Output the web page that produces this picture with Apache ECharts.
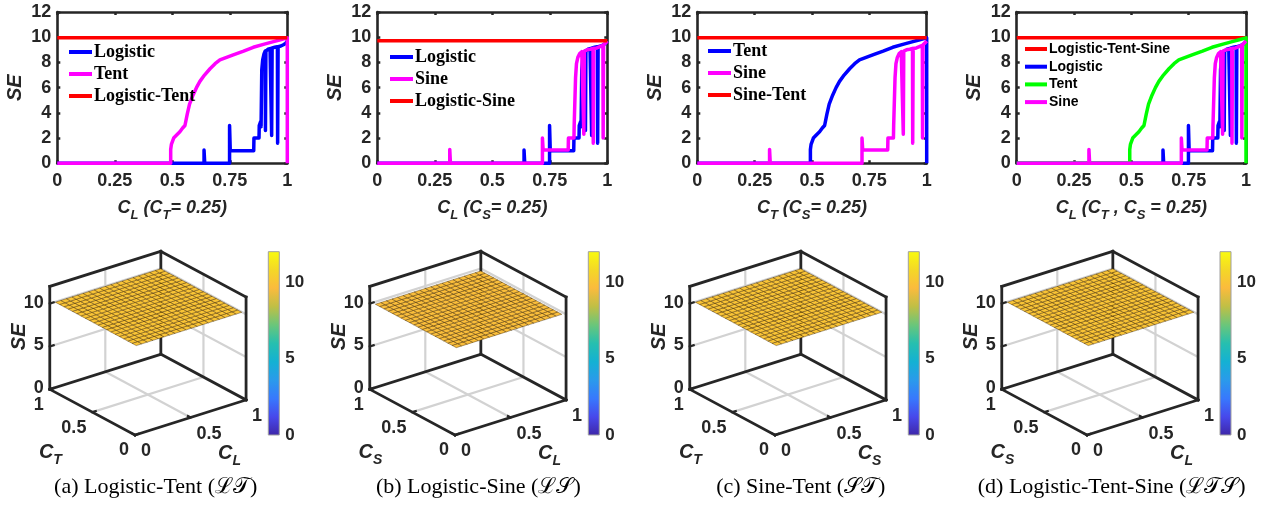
<!DOCTYPE html>
<html>
<head>
<meta charset="utf-8">
<script src="https://cdn.jsdelivr.net/npm/echarts@6/dist/echarts.min.js"></script>
<style>
  html, body { margin: 0; padding: 0; background: #fff; }
  #chart { width: 1265px; height: 514px; }
</style>
</head>
<body>
<div id="chart"></div>
<script>
// ---------------- data: SE versus control parameter (top row) ----------------
const cAxisTicks = [0, 0.25, 0.5, 0.75, 1];
const seAxisTicks = [0, 2, 4, 6, 8, 10, 12];

const logisticSE = [
  [0, 0], [0.638, 0], [0.638, 1.05], [0.641, 0], [0.749, 0], [0.749, 3.0], [0.752, 1.0],
  [0.854, 1.0], [0.855, 2.0], [0.877, 2.0], [0.878, 3.0], [0.884, 3.3], [0.886, 2.9], [0.889, 7.4],
  [0.893, 8.2], [0.899, 8.7], [0.904, 8.9], [0.905, 2.6], [0.907, 8.9], [0.916, 9.05],
  [0.925, 9.1], [0.931, 9.15], [0.932, 2.2], [0.934, 9.15], [0.945, 9.2], [0.957, 9.25],
  [0.958, 1.6], [0.960, 9.25], [0.972, 9.3], [0.983, 9.4], [0.992, 9.5], [1.0, 9.7]
];
const tentSE = [
  [0, 0], [0.493, 0], [0.493, 1.1], [0.496, 1.5], [0.502, 1.6], [0.506, 2.0], [0.514, 2.1],
  [0.522, 2.3], [0.533, 2.5], [0.545, 2.8], [0.555, 3.0], [0.565, 3.9], [0.575, 4.7],
  [0.590, 5.4], [0.605, 6.0], [0.620, 6.5], [0.640, 7.0], [0.664, 7.5], [0.686, 7.9],
  [0.707, 8.2], [0.765, 8.6], [0.810, 8.9], [0.852, 9.2], [0.900, 9.45], [0.940, 9.65],
  [0.970, 9.8], [1.0, 9.95], [1.0, 0]
];
const sineSE = [
  [0, 0], [0.315, 0], [0.315, 1.1], [0.318, 0], [0.718, 0], [0.718, 2.0], [0.721, 1.05],
  [0.830, 1.05], [0.831, 2.0], [0.855, 2.0], [0.856, 3.0], [0.859, 3.1], [0.862, 6.8],
  [0.866, 7.9], [0.872, 8.4], [0.880, 8.7], [0.889, 8.85], [0.897, 8.9], [0.898, 2.3],
  [0.900, 8.9], [0.912, 9.0], [0.926, 9.05], [0.938, 9.1], [0.939, 1.6], [0.941, 9.1],
  [0.955, 9.15], [0.968, 9.25], [0.981, 9.35], [0.982, 2.0], [0.984, 9.4], [0.993, 9.55], [1.0, 9.7]
];
const logisticTentSE = [[0, 9.96], [1, 9.96]];
const logisticSineSE = [[0, 9.72], [1, 9.72]];
const sineTentSE = [[0, 9.96], [1, 9.96]];
const logisticTentSineSE = [[0, 9.96], [1, 9.96]];

// ---------------- data: SE surfaces over the two control parameters (bottom row) ----------------
const surfaceGrid = [0.05, 0.10, 0.15, 0.20, 0.25, 0.30, 0.35, 0.40, 0.45, 0.50,
                     0.55, 0.60, 0.65, 0.70, 0.75, 0.80, 0.85, 0.90, 0.95, 1.00];
const surfLT = [
  [9.96,9.96,9.96,9.96,9.96,9.96,9.96,9.96,9.96,9.96,9.96,9.96,9.96,9.96,9.96,9.96,9.96,9.96,9.96,9.96],
  [9.96,9.96,9.96,9.96,9.96,9.96,9.96,9.96,9.96,9.96,9.96,9.96,9.96,9.96,9.96,9.96,9.96,9.96,9.96,9.96],
  [9.96,9.96,9.96,9.96,9.96,9.96,9.96,9.96,9.96,9.96,9.96,9.96,9.96,9.96,9.96,9.96,9.96,9.96,9.96,9.96],
  [9.96,9.96,9.96,9.96,9.96,9.96,9.96,9.96,9.96,9.96,9.96,9.96,9.96,9.96,9.96,9.96,9.96,9.96,9.96,9.96],
  [9.96,9.96,9.96,9.96,9.96,9.96,9.96,9.96,9.96,9.96,9.96,9.96,9.96,9.96,9.96,9.96,9.96,9.96,9.96,9.96],
  [9.96,9.96,9.96,9.96,9.96,9.96,9.96,9.96,9.96,9.96,9.96,9.96,9.96,9.96,9.96,9.96,9.96,9.96,9.96,9.96],
  [9.96,9.96,9.96,9.96,9.96,9.96,9.96,9.96,9.96,9.96,9.96,9.96,9.96,9.96,9.96,9.96,9.96,9.96,9.96,9.96],
  [9.96,9.96,9.96,9.96,9.96,9.96,9.96,9.96,9.96,9.96,9.96,9.96,9.96,9.96,9.96,9.96,9.96,9.96,9.96,9.96],
  [9.96,9.96,9.96,9.96,9.96,9.96,9.96,9.96,9.96,9.96,9.96,9.96,9.96,9.96,9.96,9.96,9.96,9.96,9.96,9.96],
  [9.96,9.96,9.96,9.96,9.96,9.96,9.96,9.96,9.96,9.96,9.96,9.96,9.96,9.96,9.96,9.96,9.96,9.96,9.96,9.96],
  [9.96,9.96,9.96,9.96,9.96,9.96,9.96,9.96,9.96,9.96,9.96,9.96,9.96,9.96,9.96,9.96,9.96,9.96,9.96,9.96],
  [9.96,9.96,9.96,9.96,9.96,9.96,9.96,9.96,9.96,9.96,9.96,9.96,9.96,9.96,9.96,9.96,9.96,9.96,9.96,9.96],
  [9.96,9.96,9.96,9.96,9.96,9.96,9.96,9.96,9.96,9.96,9.96,9.96,9.96,9.96,9.96,9.96,9.96,9.96,9.96,9.96],
  [9.96,9.96,9.96,9.96,9.96,9.96,9.96,9.96,9.96,9.96,9.96,9.96,9.96,9.96,9.96,9.96,9.96,9.96,9.96,9.96],
  [9.96,9.96,9.96,9.96,9.96,9.96,9.96,9.96,9.96,9.96,9.96,9.96,9.96,9.96,9.96,9.96,9.96,9.96,9.96,9.96],
  [9.96,9.96,9.96,9.96,9.96,9.96,9.96,9.96,9.96,9.96,9.96,9.96,9.96,9.96,9.96,9.96,9.96,9.96,9.96,9.96],
  [9.96,9.96,9.96,9.96,9.96,9.96,9.96,9.96,9.96,9.96,9.96,9.96,9.96,9.96,9.96,9.96,9.96,9.96,9.96,9.96],
  [9.96,9.96,9.96,9.96,9.96,9.96,9.96,9.96,9.96,9.96,9.96,9.96,9.96,9.96,9.96,9.96,9.96,9.96,9.96,9.96],
  [9.96,9.96,9.96,9.96,9.96,9.96,9.96,9.96,9.96,9.96,9.96,9.96,9.96,9.96,9.96,9.96,9.96,9.96,9.96,9.96],
  [9.96,9.96,9.96,9.96,9.96,9.96,9.96,9.96,9.96,9.96,9.96,9.96,9.96,9.96,9.96,9.96,9.96,9.96,9.96,9.96]
];
const surfLS = [
  [9.72,9.72,9.72,9.72,9.72,9.72,9.72,9.72,9.72,9.72,9.72,9.72,9.72,9.72,9.72,9.72,9.72,9.72,9.72,9.72],
  [9.72,9.72,9.72,9.72,9.72,9.72,9.72,9.72,9.72,9.72,9.72,9.72,9.72,9.72,9.72,9.72,9.72,9.72,9.72,9.72],
  [9.72,9.72,9.72,9.72,9.72,9.72,9.72,9.72,9.72,9.72,9.72,9.72,9.72,9.72,9.72,9.72,9.72,9.72,9.72,9.72],
  [9.72,9.72,9.72,9.72,9.72,9.72,9.72,9.72,9.72,9.72,9.72,9.72,9.72,9.72,9.72,9.72,9.72,9.72,9.72,9.72],
  [9.72,9.72,9.72,9.72,9.72,9.72,9.72,9.72,9.72,9.72,9.72,9.72,9.72,9.72,9.72,9.72,9.72,9.72,9.72,9.72],
  [9.72,9.72,9.72,9.72,9.72,9.72,9.72,9.72,9.72,9.72,9.72,9.72,9.72,9.72,9.72,9.72,9.72,9.72,9.72,9.72],
  [9.72,9.72,9.72,9.72,9.72,9.72,9.72,9.72,9.72,9.72,9.72,9.72,9.72,9.72,9.72,9.72,9.72,9.72,9.72,9.72],
  [9.72,9.72,9.72,9.72,9.72,9.72,9.72,9.72,9.72,9.72,9.72,9.72,9.72,9.72,9.72,9.72,9.72,9.72,9.72,9.72],
  [9.72,9.72,9.72,9.72,9.72,9.72,9.72,9.72,9.72,9.72,9.72,9.72,9.72,9.72,9.72,9.72,9.72,9.72,9.72,9.72],
  [9.72,9.72,9.72,9.72,9.72,9.72,9.72,9.72,9.72,9.72,9.72,9.72,9.72,9.72,9.72,9.72,9.72,9.72,9.72,9.72],
  [9.72,9.72,9.72,9.72,9.72,9.72,9.72,9.72,9.72,9.72,9.72,9.72,9.72,9.72,9.72,9.72,9.72,9.72,9.72,9.72],
  [9.72,9.72,9.72,9.72,9.72,9.72,9.72,9.72,9.72,9.72,9.72,9.72,9.72,9.72,9.72,9.72,9.72,9.72,9.72,9.72],
  [9.72,9.72,9.72,9.72,9.72,9.72,9.72,9.72,9.72,9.72,9.72,9.72,9.72,9.72,9.72,9.72,9.72,9.72,9.72,9.72],
  [9.72,9.72,9.72,9.72,9.72,9.72,9.72,9.72,9.72,9.72,9.72,9.72,9.72,9.72,9.72,9.72,9.72,9.72,9.72,9.72],
  [9.72,9.72,9.72,9.72,9.72,9.72,9.72,9.72,9.72,9.72,9.72,9.72,9.72,9.72,9.72,9.72,9.72,9.72,9.72,9.72],
  [9.72,9.72,9.72,9.72,9.72,9.72,9.72,9.72,9.72,9.72,9.72,9.72,9.72,9.72,9.72,9.72,9.72,9.72,9.72,9.72],
  [9.72,9.72,9.72,9.72,9.72,9.72,9.72,9.72,9.72,9.72,9.72,9.72,9.72,9.72,9.72,9.72,9.72,9.72,9.72,9.72],
  [9.72,9.72,9.72,9.72,9.72,9.72,9.72,9.72,9.72,9.72,9.72,9.72,9.72,9.72,9.72,9.72,9.72,9.72,9.72,9.72],
  [9.72,9.72,9.72,9.72,9.72,9.72,9.72,9.72,9.72,9.72,9.72,9.72,9.72,9.72,9.72,9.72,9.72,9.72,9.72,9.72],
  [9.72,9.72,9.72,9.72,9.72,9.72,9.72,9.72,9.72,9.72,9.72,9.72,9.72,9.72,9.72,9.72,9.72,9.72,9.72,9.72]
];
const surfST = [
  [9.96,9.96,9.96,9.96,9.96,9.96,9.96,9.96,9.96,9.96,9.96,9.96,9.96,9.96,9.96,9.96,9.96,9.96,9.96,9.96],
  [9.96,9.96,9.96,9.96,9.96,9.96,9.96,9.96,9.96,9.96,9.96,9.96,9.96,9.96,9.96,9.96,9.96,9.96,9.96,9.96],
  [9.96,9.96,9.96,9.96,9.96,9.96,9.96,9.96,9.96,9.96,9.96,9.96,9.96,9.96,9.96,9.96,9.96,9.96,9.96,9.96],
  [9.96,9.96,9.96,9.96,9.96,9.96,9.96,9.96,9.96,9.96,9.96,9.96,9.96,9.96,9.96,9.96,9.96,9.96,9.96,9.96],
  [9.96,9.96,9.96,9.96,9.96,9.96,9.96,9.96,9.96,9.96,9.96,9.96,9.96,9.96,9.96,9.96,9.96,9.96,9.96,9.96],
  [9.96,9.96,9.96,9.96,9.96,9.96,9.96,9.96,9.96,9.96,9.96,9.96,9.96,9.96,9.96,9.96,9.96,9.96,9.96,9.96],
  [9.96,9.96,9.96,9.96,9.96,9.96,9.96,9.96,9.96,9.96,9.96,9.96,9.96,9.96,9.96,9.96,9.96,9.96,9.96,9.96],
  [9.96,9.96,9.96,9.96,9.96,9.96,9.96,9.96,9.96,9.96,9.96,9.96,9.96,9.96,9.96,9.96,9.96,9.96,9.96,9.96],
  [9.96,9.96,9.96,9.96,9.96,9.96,9.96,9.96,9.96,9.96,9.96,9.96,9.96,9.96,9.96,9.96,9.96,9.96,9.96,9.96],
  [9.96,9.96,9.96,9.96,9.96,9.96,9.96,9.96,9.96,9.96,9.96,9.96,9.96,9.96,9.96,9.96,9.96,9.96,9.96,9.96],
  [9.96,9.96,9.96,9.96,9.96,9.96,9.96,9.96,9.96,9.96,9.96,9.96,9.96,9.96,9.96,9.96,9.96,9.96,9.96,9.96],
  [9.96,9.96,9.96,9.96,9.96,9.96,9.96,9.96,9.96,9.96,9.96,9.96,9.96,9.96,9.96,9.96,9.96,9.96,9.96,9.96],
  [9.96,9.96,9.96,9.96,9.96,9.96,9.96,9.96,9.96,9.96,9.96,9.96,9.96,9.96,9.96,9.96,9.96,9.96,9.96,9.96],
  [9.96,9.96,9.96,9.96,9.96,9.96,9.96,9.96,9.96,9.96,9.96,9.96,9.96,9.96,9.96,9.96,9.96,9.96,9.96,9.96],
  [9.96,9.96,9.96,9.96,9.96,9.96,9.96,9.96,9.96,9.96,9.96,9.96,9.96,9.96,9.96,9.96,9.96,9.96,9.96,9.96],
  [9.96,9.96,9.96,9.96,9.96,9.96,9.96,9.96,9.96,9.96,9.96,9.96,9.96,9.96,9.96,9.96,9.96,9.96,9.96,9.96],
  [9.96,9.96,9.96,9.96,9.96,9.96,9.96,9.96,9.96,9.96,9.96,9.96,9.96,9.96,9.96,9.96,9.96,9.96,9.96,9.96],
  [9.96,9.96,9.96,9.96,9.96,9.96,9.96,9.96,9.96,9.96,9.96,9.96,9.96,9.96,9.96,9.96,9.96,9.96,9.96,9.96],
  [9.96,9.96,9.96,9.96,9.96,9.96,9.96,9.96,9.96,9.96,9.96,9.96,9.96,9.96,9.96,9.96,9.96,9.96,9.96,9.96],
  [9.96,9.96,9.96,9.96,9.96,9.96,9.96,9.96,9.96,9.96,9.96,9.96,9.96,9.96,9.96,9.96,9.96,9.96,9.96,9.96]
];
const surfLTS = [
  [9.96,9.96,9.96,9.96,9.96,9.96,9.96,9.96,9.96,9.96,9.96,9.96,9.96,9.96,9.96,9.96,9.96,9.96,9.96,9.96],
  [9.96,9.96,9.96,9.96,9.96,9.96,9.96,9.96,9.96,9.96,9.96,9.96,9.96,9.96,9.96,9.96,9.96,9.96,9.96,9.96],
  [9.96,9.96,9.96,9.96,9.96,9.96,9.96,9.96,9.96,9.96,9.96,9.96,9.96,9.96,9.96,9.96,9.96,9.96,9.96,9.96],
  [9.96,9.96,9.96,9.96,9.96,9.96,9.96,9.96,9.96,9.96,9.96,9.96,9.96,9.96,9.96,9.96,9.96,9.96,9.96,9.96],
  [9.96,9.96,9.96,9.96,9.96,9.96,9.96,9.96,9.96,9.96,9.96,9.96,9.96,9.96,9.96,9.96,9.96,9.96,9.96,9.96],
  [9.96,9.96,9.96,9.96,9.96,9.96,9.96,9.96,9.96,9.96,9.96,9.96,9.96,9.96,9.96,9.96,9.96,9.96,9.96,9.96],
  [9.96,9.96,9.96,9.96,9.96,9.96,9.96,9.96,9.96,9.96,9.96,9.96,9.96,9.96,9.96,9.96,9.96,9.96,9.96,9.96],
  [9.96,9.96,9.96,9.96,9.96,9.96,9.96,9.96,9.96,9.96,9.96,9.96,9.96,9.96,9.96,9.96,9.96,9.96,9.96,9.96],
  [9.96,9.96,9.96,9.96,9.96,9.96,9.96,9.96,9.96,9.96,9.96,9.96,9.96,9.96,9.96,9.96,9.96,9.96,9.96,9.96],
  [9.96,9.96,9.96,9.96,9.96,9.96,9.96,9.96,9.96,9.96,9.96,9.96,9.96,9.96,9.96,9.96,9.96,9.96,9.96,9.96],
  [9.96,9.96,9.96,9.96,9.96,9.96,9.96,9.96,9.96,9.96,9.96,9.96,9.96,9.96,9.96,9.96,9.96,9.96,9.96,9.96],
  [9.96,9.96,9.96,9.96,9.96,9.96,9.96,9.96,9.96,9.96,9.96,9.96,9.96,9.96,9.96,9.96,9.96,9.96,9.96,9.96],
  [9.96,9.96,9.96,9.96,9.96,9.96,9.96,9.96,9.96,9.96,9.96,9.96,9.96,9.96,9.96,9.96,9.96,9.96,9.96,9.96],
  [9.96,9.96,9.96,9.96,9.96,9.96,9.96,9.96,9.96,9.96,9.96,9.96,9.96,9.96,9.96,9.96,9.96,9.96,9.96,9.96],
  [9.96,9.96,9.96,9.96,9.96,9.96,9.96,9.96,9.96,9.96,9.96,9.96,9.96,9.96,9.96,9.96,9.96,9.96,9.96,9.96],
  [9.96,9.96,9.96,9.96,9.96,9.96,9.96,9.96,9.96,9.96,9.96,9.96,9.96,9.96,9.96,9.96,9.96,9.96,9.96,9.96],
  [9.96,9.96,9.96,9.96,9.96,9.96,9.96,9.96,9.96,9.96,9.96,9.96,9.96,9.96,9.96,9.96,9.96,9.96,9.96,9.96],
  [9.96,9.96,9.96,9.96,9.96,9.96,9.96,9.96,9.96,9.96,9.96,9.96,9.96,9.96,9.96,9.96,9.96,9.96,9.96,9.96],
  [9.96,9.96,9.96,9.96,9.96,9.96,9.96,9.96,9.96,9.96,9.96,9.96,9.96,9.96,9.96,9.96,9.96,9.96,9.96,9.96],
  [9.96,9.96,9.96,9.96,9.96,9.96,9.96,9.96,9.96,9.96,9.96,9.96,9.96,9.96,9.96,9.96,9.96,9.96,9.96,9.96]
];
const cTicks3D = [0, 0.5, 1];
const seTicks3D = [0, 5, 10];
const seRange3D = [0, 12];
const colorbarRange = [0, 12];
const colorbarTicks = [0, 5, 10];

// ---------------- styling ----------------
const SANS = "'Liberation Sans', Arial, Helvetica, sans-serif";
const SERIF = "'Liberation Serif', 'Times New Roman', serif";
const AX = '#262626';
const BLUE = '#0000ff', MAGENTA = '#ff00ff', RED = '#ff0000', GREEN = '#00ff00';
// parula colour map, sampled at 11 evenly spaced points
const PARULA = ['#3e26a8', '#4748eb', '#3878fd', '#2a9aeb', '#14b1d3', '#26bfaf',
                '#6bc67a', '#c0bf45', '#fbbb3d', '#f4d826', '#f9fb0e'];

function hexToRgb(h) { return [1, 3, 5].map(i => parseInt(h.slice(i, i + 2), 16)); }
function parula(t) {
  t = Math.max(0, Math.min(1, t));
  const f = t * (PARULA.length - 1), i = Math.min(PARULA.length - 2, Math.floor(f)), r = f - i;
  const a = hexToRgb(PARULA[i]), b = hexToRgb(PARULA[i + 1]);
  const c = a.map((v, k) => Math.round(v + (b[k] - v) * r));
  return 'rgb(' + c.join(',') + ')';
}

const richAxisTitle = (size, sub) => ({
  i: { fontFamily: SANS, fontWeight: 'bold', fontStyle: 'italic', fontSize: size, lineHeight: size + 10, color: AX },
  s: { fontFamily: SANS, fontWeight: 'bold', fontStyle: 'italic', fontSize: sub, lineHeight: sub, color: AX, verticalAlign: 'bottom' }
});

// ---------------- top row: SE curves ----------------
const topPanels = [
  { key: 'a', left: 57.3, width: 230,
    series: [['Logistic', logisticSE, BLUE], ['Tent', tentSE, MAGENTA], ['Logistic-Tent', logisticTentSE, RED]],
    legend: ['Logistic', 'Tent', 'Logistic-Tent'], legendPos: [69, 43], legendFont: 'serif',
    xTitle: '{i|C}{s|L}{i| (C}{s|T}{i|= 0.25)}' },
  { key: 'b', left: 377.3, width: 230,
    series: [['Logistic', logisticSE, BLUE], ['Sine', sineSE, MAGENTA], ['Logistic-Sine', logisticSineSE, RED]],
    legend: ['Logistic', 'Sine', 'Logistic-Sine'], legendPos: [390, 48], legendFont: 'serif',
    xTitle: '{i|C}{s|L}{i| (C}{s|S}{i|= 0.25)}' },
  { key: 'c', left: 697.3, width: 229.4,
    series: [['Tent', tentSE, BLUE], ['Sine', sineSE, MAGENTA], ['Sine-Tent', sineTentSE, RED]],
    legend: ['Tent', 'Sine', 'Sine-Tent'], legendPos: [708, 42], legendFont: 'serif',
    xTitle: '{i|C}{s|T}{i| (C}{s|S}{i|= 0.25)}' },
  { key: 'd', left: 1016.7, width: 229.3,
    series: [['Logistic-Tent-Sine', logisticTentSineSE, RED], ['Logistic', logisticSE, BLUE], ['Tent', tentSE, GREEN], ['Sine', sineSE, MAGENTA]],
    legend: ['Logistic-Tent-Sine', 'Logistic', 'Tent', 'Sine'], legendPos: [1025, 42], legendFont: 'sans',
    xTitle: '{i|C}{s|L}{i| (C}{s|T}{i| , C}{s|S}{i| = 0.25)}' }
];

const option = {
  animation: false,
  backgroundColor: '#ffffff',
  grid: [], xAxis: [], yAxis: [], series: [], legend: [], graphic: []
};

const tickStyle = { show: true, inside: true, length: 3, lineStyle: { color: AX, width: 2.5 } };
const lineStyleAx = { color: AX, width: 2.6 };

topPanels.forEach(p => {
  const g = option.grid.length;
  option.grid.push({ left: p.left, top: 12, width: p.width, height: 151.3, outerBoundsMode: 'none', show: false });
  const xi = option.xAxis.length, yi = option.yAxis.length;
  option.xAxis.push({
    gridIndex: g, type: 'value', position: 'bottom', min: cAxisTicks[0], max: cAxisTicks[cAxisTicks.length - 1],
    interval: cAxisTicks[1] - cAxisTicks[0],
    axisLine: { show: true, onZero: false, lineStyle: lineStyleAx }, axisTick: tickStyle, splitLine: { show: false },
    axisLabel: { margin: 9, fontFamily: SANS, fontWeight: 'bold', fontSize: 18, color: AX, formatter: v => String(v) },
    name: p.xTitle, nameLocation: 'middle', nameGap: 31,
    nameTextStyle: { rich: richAxisTitle(18, 13) }
  }, {
    gridIndex: g, type: 'value', position: 'top', min: 0, max: 1, interval: 0.25,
    axisLine: { show: true, onZero: false, lineStyle: lineStyleAx }, axisTick: tickStyle,
    axisLabel: { show: false }, splitLine: { show: false }
  });
  option.yAxis.push({
    gridIndex: g, type: 'value', position: 'left', min: seAxisTicks[0], max: seAxisTicks[seAxisTicks.length - 1],
    interval: seAxisTicks[1] - seAxisTicks[0],
    axisLine: { show: true, onZero: false, lineStyle: lineStyleAx }, axisTick: tickStyle, splitLine: { show: false },
    axisLabel: { margin: 6, fontFamily: SANS, fontWeight: 'bold', fontSize: 18, color: AX },
    name: 'SE', nameLocation: 'middle', nameRotate: 90, nameGap: 32,
    nameTextStyle: { fontFamily: SANS, fontWeight: 'bold', fontStyle: 'italic', fontSize: 20, color: AX }
  }, {
    gridIndex: g, type: 'value', position: 'right', min: 0, max: 12, interval: 2,
    axisLine: { show: true, onZero: false, lineStyle: lineStyleAx }, axisTick: tickStyle,
    axisLabel: { show: false }, splitLine: { show: false }
  });
  p.series.forEach(([name, data, color]) => {
    option.series.push({
      type: 'line', name: p.key + '|' + name, xAxisIndex: xi, yAxisIndex: yi, data: data,
      symbol: 'none', showSymbol: false, clip: false, smooth: false,
      lineStyle: { color: color, width: 3.5, join: 'round' }, itemStyle: { color: color },
      emphasis: { disabled: true }
    });
  });
  const serif = p.legendFont === 'serif';
  option.legend.push({
    data: p.legend.map(n => p.key + '|' + n),
    formatter: n => n.split('|')[1],
    orient: 'vertical', left: p.legendPos[0], top: p.legendPos[1], padding: 0,
    icon: 'rect', itemWidth: serif ? 23 : 22, itemHeight: 4, itemGap: serif ? 4 : 3.7,
    selectedMode: false,
    textStyle: serif
      ? { fontFamily: SERIF, fontWeight: 'bold', fontSize: 18, lineHeight: 18, color: '#000', padding: [0, 0, 0, -3] }
      : { fontFamily: SANS, fontWeight: 'bold', fontSize: 14, lineHeight: 14, color: '#000', padding: [0, 0, 0, -3] }
  });
});

// ---------------- bottom row: SE surfaces in a 3-D box ----------------
const VIEW = { az: -37.5, el: 24.3, zAspect: 0.806, scale: 140 };
function proj(cl, ct, se) {
  const a = VIEW.az * Math.PI / 180, e = VIEW.el * Math.PI / 180;
  const zn = (se - seRange3D[0]) / (seRange3D[1] - seRange3D[0]);
  return [
    Math.cos(a) * cl + Math.sin(a) * ct,
    -Math.sin(e) * Math.sin(a) * cl + Math.sin(e) * Math.cos(a) * ct + Math.cos(e) * VIEW.zAspect * zn
  ];
}

const surfacePanels = [
  { S: surfLT, xName: 'L', yName: 'T', front: [135, 435], cbarLeft: 268.3, caption: '(a) Logistic-Tent (\u2112\uD835\uDCAF)', captionX: 155.7 },
  { S: surfLS, xName: 'L', yName: 'S', front: [455, 435], cbarLeft: 588.3, caption: '(b) Logistic-Sine (\u2112\uD835\uDCAE)', captionX: 478.3 },
  { S: surfST, xName: 'S', yName: 'T', front: [775, 435], cbarLeft: 908.3, caption: '(c) Sine-Tent (\uD835\uDCAE\uD835\uDCAF)', captionX: 800.8 },
  { S: surfLTS, xName: 'L', yName: 'S', front: [1087, 435], cbarLeft: 1220, caption: '(d) Logistic-Tent-Sine (\u2112\uD835\uDCAF\uD835\uDCAE)', captionX: 1111.7 }
];

// projected extent of the 3-D box
const corners = [];
[0, 1].forEach(x => [0, 1].forEach(y => seRange3D.forEach(z => corners.push(proj(x, y, z)))));
const pxMin = Math.min(...corners.map(c => c[0])), pxMax = Math.max(...corners.map(c => c[0]));
const pyMin = Math.min(...corners.map(c => c[1])), pyMax = Math.max(...corners.map(c => c[1]));

// frame: box edges, grid lines and tick marks, as 3-D segments [x0,y0,z0,x1,y1,z1,kind]
const Z0 = seRange3D[0], Z1 = seRange3D[1];
const frameSegments = [];
// grid lines on floor and back walls
cTicks3D.filter(v => v > 0 && v < 1).forEach(v => {
  frameSegments.push([v, 0, Z0, v, 1, Z0, 0], [0, v, Z0, 1, v, Z0, 0]);
  frameSegments.push([v, 1, Z0, v, 1, Z1, 0], [1, v, Z0, 1, v, Z1, 0]);
});
seTicks3D.filter(s => s > Z0).forEach(s => {
  frameSegments.push([0, 1, s, 1, 1, s, 0], [1, 0, s, 1, 1, s, 0]);
});
// box edges
frameSegments.push(
  [0, 0, Z0, 1, 0, Z0, 1], [0, 0, Z0, 0, 1, Z0, 1], [1, 0, Z0, 1, 1, Z0, 1], [0, 1, Z0, 1, 1, Z0, 1],
  [0, 1, Z0, 0, 1, Z1, 1], [1, 0, Z0, 1, 0, Z1, 1], [1, 1, Z0, 1, 1, Z1, 1],
  [0, 1, Z1, 1, 1, Z1, 1], [1, 0, Z1, 1, 1, Z1, 1]
);
// tick marks
seTicks3D.forEach(s => frameSegments.push([0, 1, s, 0.035, 1, s, 2]));
cTicks3D.forEach(v => frameSegments.push([0, v, Z0, 0.03, v, Z0, 2], [v, 0, Z0, v, 0.03, Z0, 2]));

function surfaceCells(grid, S) {
  const cells = [];
  for (let j = 0; j < grid.length - 1; j++) {
    for (let i = 0; i < grid.length - 1; i++) {
      cells.push([grid[i], grid[j], grid[i + 1], grid[j + 1], S[j][i], S[j][i + 1], S[j + 1][i + 1], S[j + 1][i]]);
    }
  }
  return cells;
}

const labelOffsets = {
  se: { dx: -6, dy: -1, align: 'right' },
  ct: { dx: -6, dy: 15.5, align: 'right' },
  cl: { dx: 6, dy: 16.5, align: 'left' },
  seTitle: { dx: -30, dy: -1, align: 'center', rot: Math.PI / 2 },
  ctTitle: { dx: -42, dy: 40, align: 'center' },
  clTitle: { dx: 39, dy: 36, align: 'center' }
};

surfacePanels.forEach(p => {
  const S = VIEW.scale;
  const g = option.grid.length;
  option.grid.push({
    left: p.front[0] + pxMin * S, top: p.front[1] - pyMax * S,
    width: (pxMax - pxMin) * S, height: (pyMax - pyMin) * S, outerBoundsMode: 'none', show: false
  });
  const xi = option.xAxis.length, yi = option.yAxis.length;
  option.xAxis.push({ gridIndex: g, type: 'value', min: pxMin, max: pxMax, show: false });
  option.yAxis.push({ gridIndex: g, type: 'value', min: pyMin, max: pyMax, show: false });

  const pt = (api, v) => api.coord(proj(v[0], v[1], v[2]));

  option.series.push({
    type: 'custom', xAxisIndex: xi, yAxisIndex: yi, z: 2, silent: true,
    data: frameSegments,
    renderItem: (params, api) => {
      const a = pt(api, [api.value(0), api.value(1), api.value(2)]);
      const b = pt(api, [api.value(3), api.value(4), api.value(5)]);
      const kind = api.value(6);
      return {
        type: 'line', shape: { x1: a[0], y1: a[1], x2: b[0], y2: b[1] },
        style: kind === 0 ? { stroke: '#d2d2d2', lineWidth: 2.2 }
                          : { stroke: AX, lineWidth: kind === 1 ? 2.8 : 2.2, lineCap: 'square' },
        z2: kind === 0 ? 0 : 1
      };
    }
  });

  option.series.push({
    type: 'custom', xAxisIndex: xi, yAxisIndex: yi, z: 3, silent: true,
    data: surfaceCells(surfaceGrid, p.S),
    renderItem: (params, api) => {
      const x0 = api.value(0), y0 = api.value(1), x1 = api.value(2), y1 = api.value(3);
      const zz = [api.value(4), api.value(5), api.value(6), api.value(7)];
      const pts = [[x0, y0, zz[0]], [x1, y0, zz[1]], [x1, y1, zz[2]], [x0, y1, zz[3]]].map(v => pt(api, v));
      const zm = (zz[0] + zz[1] + zz[2] + zz[3]) / 4;
      return {
        type: 'polygon', shape: { points: pts },
        style: { fill: parula((zm - colorbarRange[0]) / (colorbarRange[1] - colorbarRange[0])), stroke: 'rgba(60,35,0,0.6)', lineWidth: 0.7 }
      };
    }
  });

  // tick labels and axis titles
  const labels = [];
  seTicks3D.forEach(s => labels.push({ p: [0, 1, s], kind: 'se', text: String(s) }));
  cTicks3D.forEach(v => labels.push({ p: [0, v, Z0], kind: 'ct', text: String(v) }));
  cTicks3D.forEach(v => labels.push({ p: [v, 0, Z0], kind: 'cl', text: String(v) }));
  labels.push({ p: [0, 1, (Z0 + Z1) / 2], kind: 'seTitle', text: 'SE' });
  labels.push({ p: [0, 0.5, Z0], kind: 'ctTitle', text: '{i|C}{s|' + p.yName + '}' });
  labels.push({ p: [0.5, 0, Z0], kind: 'clTitle', text: '{i|C}{s|' + p.xName + '}' });

  option.series.push({
    type: 'custom', xAxisIndex: xi, yAxisIndex: yi, z: 4, silent: true,
    data: labels.map(l => l.p),
    renderItem: (params, api) => {
      const l = labels[params.dataIndex];
      const o = labelOffsets[l.kind];
      const c = pt(api, [api.value(0), api.value(1), api.value(2)]);
      const isTitle = l.kind.indexOf('Title') > 0;
      return {
        type: 'text', x: c[0] + o.dx, y: c[1] + o.dy, rotation: o.rot || 0,
        style: {
          text: l.text, fill: AX, align: o.align, verticalAlign: 'middle',
          fontFamily: SANS, fontWeight: 'bold', fontSize: isTitle ? 20 : 18,
          fontStyle: isTitle ? 'italic' : 'normal',
          rich: richAxisTitle(20, 14)
        }
      };
    }
  });

  // colour bar
  const cg = option.grid.length;
  option.grid.push({ left: p.cbarLeft, top: p.front[1] - pyMax * S + 0.3, width: 11, height: pyMax * S - 0.3, outerBoundsMode: 'none', show: false });
  const cxi = option.xAxis.length, cyi = option.yAxis.length;
  option.xAxis.push({ gridIndex: cg, type: 'value', min: 0, max: 1, show: false });
  option.yAxis.push({
    gridIndex: cg, type: 'value', position: 'right', min: colorbarRange[0], max: colorbarRange[1],
    interval: colorbarTicks[1] - colorbarTicks[0],
    axisLine: { show: false }, axisTick: { show: false }, splitLine: { show: false },
    axisLabel: { margin: 6, fontFamily: SANS, fontWeight: 'bold', fontSize: 17, color: AX, showMaxLabel: false,
      formatter: v => colorbarTicks.indexOf(v) >= 0 ? String(v) : '' }
  });
  option.series.push({
    type: 'custom', xAxisIndex: cxi, yAxisIndex: cyi, silent: true,
    data: [colorbarRange],
    renderItem: (params, api) => {
      const lo = api.coord([0, api.value(0)]), hi = api.coord([1, api.value(1)]);
      const stops = PARULA.map((c, i) => ({ offset: i / (PARULA.length - 1), color: c }));
      return {
        type: 'rect', shape: { x: lo[0], y: hi[1], width: hi[0] - lo[0], height: lo[1] - hi[1] },
        style: { fill: new echarts.graphic.LinearGradient(0, 1, 0, 0, stops), stroke: '#a0a0a0', lineWidth: 1 }
      };
    }
  });

  option.graphic.push({
    type: 'text', x: p.captionX, y: 487, silent: true,
    style: { text: p.caption, fontFamily: SERIF, fontSize: 22, fill: '#000', align: 'center', verticalAlign: 'middle' }
  });
});

const chart = echarts.init(document.getElementById('chart'), null, { renderer: 'canvas', width: 1265, height: 514 });
chart.setOption(option);
</script>
</body>
</html>
